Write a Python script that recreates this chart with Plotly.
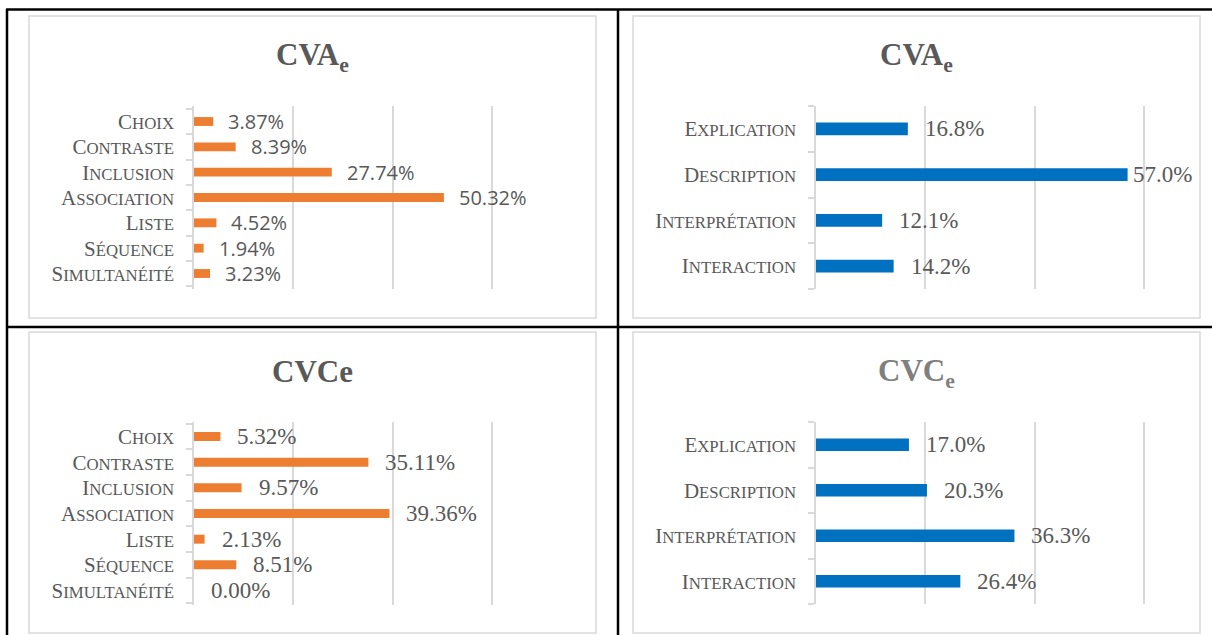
import plotly.graph_objects as go

# ---- data -------------------------------------------------------------
relations = ["Choix", "Contraste", "Inclusion", "Association", "Liste",
             "Séquence", "Simultanéité"]
cva_relations = [3.87, 8.39, 27.74, 50.32, 4.52, 1.94, 3.23]
cvc_relations = [5.32, 35.11, 9.57, 39.36, 2.13, 8.51, 0.00]

functions = ["Explication", "Description", "Interprétation", "Interaction"]
cva_functions = [16.8, 57.0, 12.1, 14.2]
cvc_functions = [17.0, 20.3, 36.3, 26.4]

titles = ["<b>CVA<sub>e</sub></b>", "<b>CVA<sub>e</sub></b>",
          "<b>CVCe</b>", "<b>CVC<sub>e</sub></b>"]

# ---- page geometry (pixels) --------------------------------------------
W, H = 1212, 635
SERIF = "Liberation Serif, Times New Roman, serif"
SANS = "Open Sans, Segoe UI, sans-serif"
TXT = "#595959"
GRID = "#d9d9d9"
ORANGE = "#ED7D31"
BLUE = "#0070C0"


def fx(px):
    return px / W


def fy(py):
    return 1 - py / H


def small_caps(word, size, ratio=0.8):
    """Word-style small capitals built from plotly's pseudo-HTML."""
    out, run = "", ""
    for ch in word:
        if ch.isupper():
            if run:
                out += f'<span style="font-size:{size*ratio:.1f}px">{run.upper()}</span>'
                run = ""
            out += ch
        else:
            run += ch
    if run:
        out += f'<span style="font-size:{size*ratio:.1f}px">{run.upper()}</span>'
    return out


panels = [
    dict(box=(29, 16, 596, 318), plot=(194, 106, 492, 289), title_y=57,
         cats=relations, vals=cva_relations, color=ORANGE, width=0.35,
         fmt="{:.2f}%", lfont=dict(family=SANS, size=20, color=TXT),
         title_color=TXT, lw=8.8, gap=13),
    dict(box=(633, 16, 1200, 318), plot=(816, 106, 1144, 289), title_y=57,
         cats=functions, vals=cva_functions, color=BLUE, width=0.28,
         fmt="{:.1f}%", lfont=dict(family=SERIF, size=23, color=TXT),
         title_color=TXT, lw=11.5, gap=15),
    dict(box=(29, 332, 596, 633), plot=(194, 422, 492, 605), title_y=371,
         cats=relations, vals=cvc_relations, color=ORANGE, width=0.35,
         fmt="{:.2f}%", lfont=dict(family=SERIF, size=23, color=TXT),
         title_color=TXT, lw=11.5, gap=15),
    dict(box=(633, 332, 1200, 633), plot=(816, 422, 1144, 604), title_y=373,
         cats=functions, vals=cvc_functions, color=BLUE, width=0.28,
         fmt="{:.1f}%", lfont=dict(family=SERIF, size=23, color=TXT),
         title_color="#7f7f7f", lw=11.5, gap=15),
]

XMAX = 60          # last gridline
XPAD = 0.4         # room so the last gridline is drawn inside the range
LABEL_SIZE = 21

fig = go.Figure()
shapes = []
annotations = []

# table rules
for x0, y0, x1, y1 in [(6, 9.5, W, 9.5), (6, 327, W, 327),
                       (7, 9, 7, H), (618, 9, 618, H)]:
    shapes.append(dict(type="line", xref="paper", yref="paper",
                       x0=fx(x0), y0=fy(y0), x1=fx(x1), y1=fy(y1),
                       line=dict(color="black", width=2.5), layer="below"))

for i, p in enumerate(panels):
    n = i + 1
    xa = "xaxis" if n == 1 else f"xaxis{n}"
    ya = "yaxis" if n == 1 else f"yaxis{n}"
    xr = "x" if n == 1 else f"x{n}"
    yr = "y" if n == 1 else f"y{n}"
    bx0, by0, bx1, by1 = p["box"]
    px0, py0, px1, py1 = p["plot"]
    scale = (px1 - px0) / XMAX
    px1_ext = px1 + XPAD * scale

    # chart frame
    shapes.append(dict(type="rect", xref="paper", yref="paper",
                       x0=fx(bx0), y0=fy(by1), x1=fx(bx1), y1=fy(by0),
                       line=dict(color=GRID, width=1.5), fillcolor="white",
                       layer="below"))

    fig.add_trace(go.Bar(
        x=p["vals"], y=p["cats"], orientation="h", width=p["width"],
        marker=dict(color=p["color"], line=dict(width=0)),
        xaxis=xr, yaxis=yr, hoverinfo="skip", showlegend=False))

    fig.layout[xa] = dict(
        domain=[fx(px0), fx(px1_ext)], range=[0, XMAX + XPAD], anchor=yr,
        tickvals=[20, 40, 60], showticklabels=False, ticks="",
        showgrid=True, gridcolor=GRID, gridwidth=1.5,
        zeroline=False, showline=False, fixedrange=True)

    fig.layout[ya] = dict(
        domain=[fy(py1), fy(py0)], anchor=xr, type="category",
        categoryorder="array", categoryarray=p["cats"],
        autorange="reversed",
        tickvals=p["cats"],
        ticktext=[small_caps(c, LABEL_SIZE) for c in p["cats"]],
        tickfont=dict(family=SERIF, size=LABEL_SIZE, color=TXT),
        showline=True, linecolor=GRID, linewidth=1.5,
        ticks="outside", tickson="boundaries", ticklen=6,
        tickcolor=GRID, tickwidth=1.5, ticklabelstandoff=14,
        showgrid=False, zeroline=False, fixedrange=True)

    # title
    annotations.append(dict(
        xref="paper", yref="paper", x=fx((bx0 + bx1) / 2), y=fy(p["title_y"]),
        text=titles[i], showarrow=False, xanchor="center", yanchor="middle",
        font=dict(family=SERIF, size=31, color=p["title_color"])))

    # data labels, kept inside the chart frame
    for cat, v in zip(p["cats"], p["vals"]):
        txt = p["fmt"].format(v)
        end = px0 + v * scale
        width_est = len(txt) * p["lw"]
        shift = max(1, min(p["gap"], bx1 - 12 - width_est - end))
        annotations.append(dict(
            xref=xr, yref=yr, x=v, y=cat, text=txt, showarrow=False,
            xanchor="left", yanchor="middle", xshift=shift,
            font=p["lfont"]))

fig.update_layout(
    width=W, height=H, margin=dict(l=0, r=0, t=0, b=0),
    paper_bgcolor="white", plot_bgcolor="rgba(0,0,0,0)",
    shapes=shapes, annotations=annotations, bargap=0.6)

fig.write_html("out.html")
